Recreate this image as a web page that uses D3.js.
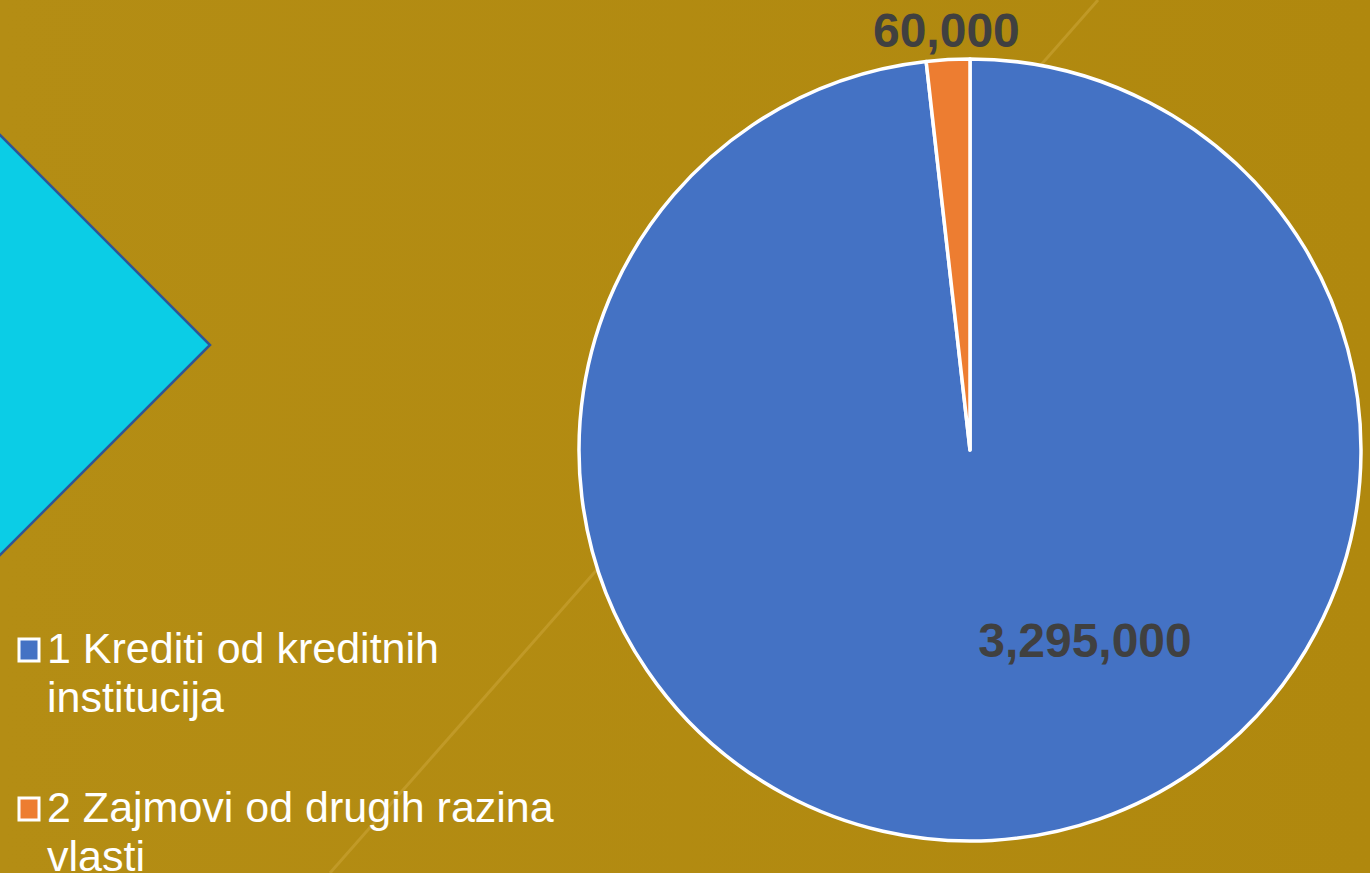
<!DOCTYPE html>
<html>
<head>
<meta charset="utf-8">
<script src="https://cdn.jsdelivr.net/npm/d3@7"></script>
<style>
	html, body { margin: 0; padding: 0; background: #b1890f; overflow: hidden; }
	svg { display: block; font-family: "Liberation Sans", Arial, sans-serif; }
</style>
</head>
<body>
<svg id="chart" width="1370" height="873"></svg>
<script>
var categories = ["1 Krediti od kreditnih institucija", "2 Zajmovi od drugih razina vlasti"];
var legendLines = [["1 Krediti od kreditnih", "institucija"], ["2 Zajmovi od drugih razina", "vlasti"]];
var values = [3295000, 60000];
var colors = ["#4472c4", "#ed7d31"];

var width = 1370,
	height = 873,
	cx = 970,
	cy = 450,
	radius = 391;

var svg = d3.select("#chart");

// background
var bg = svg.append("defs").append("linearGradient")
	.attr("id", "bgGrad")
	.attr("x1", 0).attr("y1", 0).attr("x2", 1).attr("y2", 0);
bg.append("stop").attr("offset", "0%").attr("stop-color", "#b48d14");
bg.append("stop").attr("offset", "100%").attr("stop-color", "#b0880e");

svg.append("rect")
	.attr("width", width)
	.attr("height", height)
	.attr("fill", "url(#bgGrad)");

// faint diagonal
svg.append("line")
	.attr("x1", 1098).attr("y1", 0)
	.attr("x2", 330).attr("y2", height)
	.attr("stroke", "#c9a436")
	.attr("stroke-opacity", 0.6)
	.attr("stroke-width", 3);

// cyan diamond on the left
var d = 210;
svg.append("path")
	.attr("d", "M0," + (345 - d) + "L" + d + ",345L0," + (345 + d) + "L" + (-d) + ",345Z")
	.attr("fill", "#0bcde6")
	.attr("stroke", "#2f5597")
	.attr("stroke-width", 2.5);

// pie
var pie = d3.pie().sort(null).value(function(v){ return v; });
var arcs = pie(values);

var arc = d3.arc().innerRadius(0).outerRadius(radius);

var g = svg.append("g")
	.attr("transform", "translate(" + cx + "," + cy + ")");

g.selectAll(".slice")
	.data(arcs)
	.enter().append("path")
	.attr("class", "slice")
	.attr("d", arc)
	.attr("fill", function(d, i){ return colors[i]; })
	.attr("stroke", "#ffffff")
	.attr("stroke-width", 3.5)
	.attr("stroke-linejoin", "round");

// data labels: big slice inside (best fit), small slice outside
var fmt = d3.format(",");
var labelSpots = [
	{ angle: 148.8 * Math.PI / 180, r: 222 },
	{ angle: (arcs[1].startAngle + arcs[1].endAngle) / 2, r: radius + 30 }
];

g.selectAll(".lbl")
	.data(arcs)
	.enter().append("text")
	.attr("class", "lbl")
	.attr("x", function(d, i){ return Math.sin(labelSpots[i].angle) * labelSpots[i].r; })
	.attr("y", function(d, i){ return -Math.cos(labelSpots[i].angle) * labelSpots[i].r; })
	.attr("dy", "0.36em")
	.attr("text-anchor", "middle")
	.attr("font-size", 48)
	.attr("font-weight", "bold")
	.attr("fill", "#404040")
	.text(function(d){ return fmt(d.data); });

// legend
var legend = svg.append("g").attr("class", "legend");

var item = legend.selectAll(".item")
	.data(categories)
	.enter().append("g")
	.attr("class", "item")
	.attr("transform", function(d, i){
		return "translate(0," + (663 + i * 159) + ")";
	});

item.append("rect")
	.attr("x", 19)
	.attr("y", -24)
	.attr("width", 20)
	.attr("height", 22)
	.attr("fill", function(d, i){ return colors[i]; })
	.attr("stroke", "#ffffff")
	.attr("stroke-width", 3);

item.each(function(d, i){
	var t = d3.select(this).append("text")
		.attr("fill", "#ffffff")
		.attr("font-size", 43);
	legendLines[i].forEach(function(line, j){
		t.append("tspan")
			.attr("x", 47)
			.attr("y", j * 49)
			.text(line);
	});
});
</script>
</body>
</html>
